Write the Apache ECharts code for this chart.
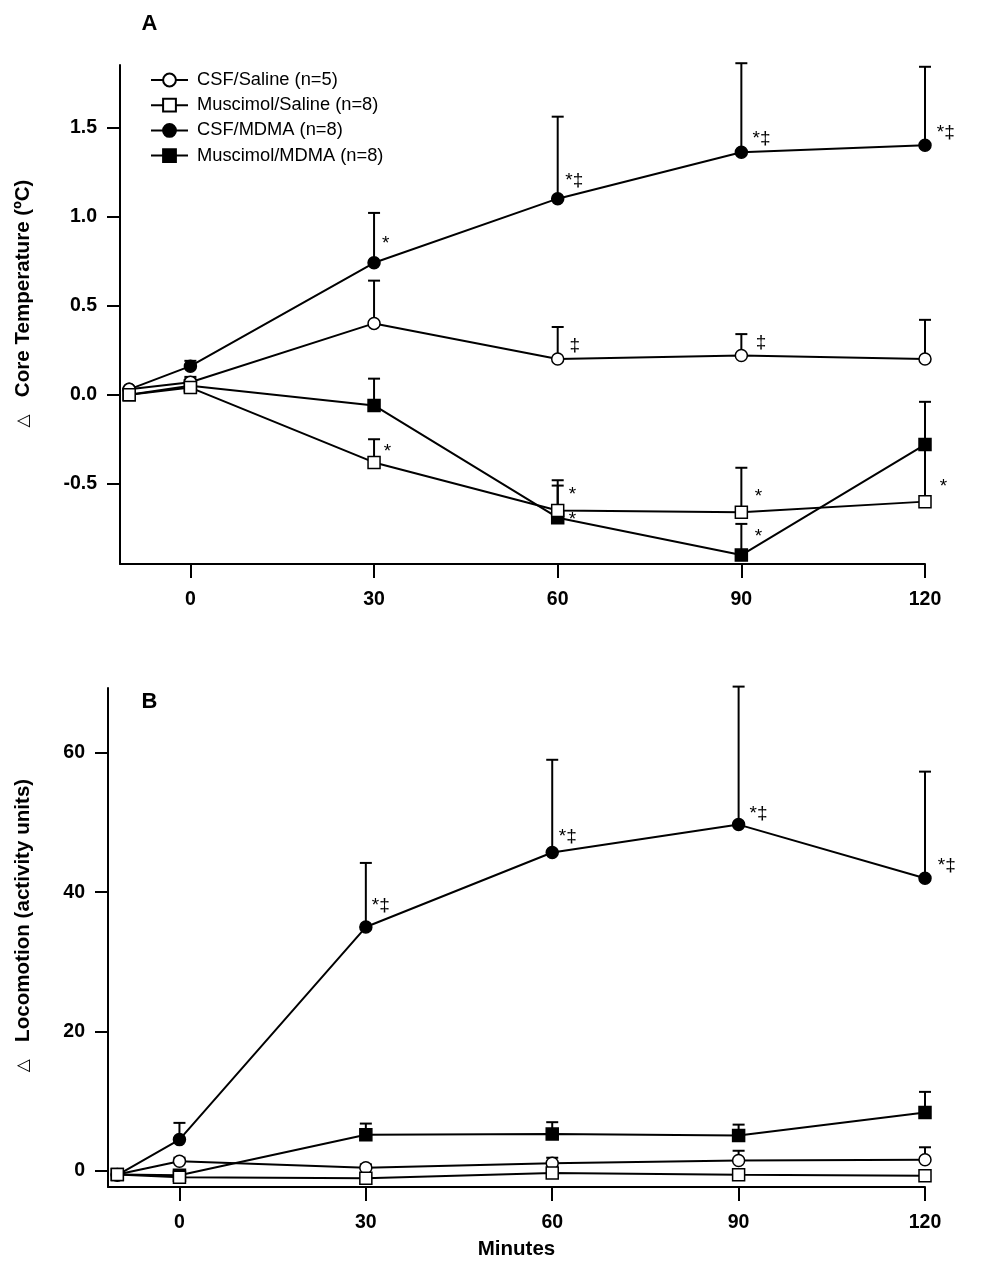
<!DOCTYPE html>
<html>
<head>
<meta charset="utf-8">
<script src="https://cdn.jsdelivr.net/npm/echarts@6/dist/echarts.min.js"></script>
<style>
html,body{margin:0;padding:0;background:#fff;}
#chart{width:987px;height:1271px;}
</style>
</head>
<body>
<div id="chart"></div>
<script>
// ---------- data ----------
const minutes = [-10, 0, 30, 60, 90, 120];
const seriesNames = ['CSF/Saline (n=5)', 'Muscimol/Saline (n=8)', 'CSF/MDMA (n=8)', 'Muscimol/MDMA (n=8)'];
const xTicks = [0, 30, 60, 90, 120];
const tempTicks = [-0.5, 0, 0.5, 1.0, 1.5];
const locoTicks = [0, 20, 40, 60];

// Panel A: change in core temperature (°C), mean and SEM
const csfSalineTemp = [0.03, 0.07, 0.40, 0.20, 0.22, 0.20];
const csfSalineTempSem = [0, 0.03, 0.24, 0.18, 0.12, 0.22];
const musSalineTemp = [0.00, 0.04, -0.38, -0.65, -0.66, -0.60];
const musSalineTempSem = [0, 0.03, 0.13, 0.17, 0.25, 0.31];
const csfMdmaTemp = [0.03, 0.16, 0.74, 1.10, 1.36, 1.40];
const csfMdmaTempSem = [0, 0.03, 0.28, 0.46, 0.50, 0.44];
const musMdmaTemp = [0.00, 0.05, -0.06, -0.69, -0.90, -0.28];
const musMdmaTempSem = [0, 0.04, 0.15, 0.18, 0.175, 0.24];

// Panel B: change in locomotion (activity units), mean and SEM
const csfSalineLoco = [-0.5, 1.4, 0.45, 1.1, 1.5, 1.6];
const csfSalineLocoSem = [0, 0.5, 0.5, 0.8, 1.4, 1.8];
const musSalineLoco = [-0.5, -0.9, -1.05, -0.3, -0.55, -0.7];
const musSalineLocoSem = [0, 0.4, 0.4, 0.5, 0.5, 0.4];
const csfMdmaLoco = [-0.6, 4.5, 35.0, 45.7, 49.7, 42.0];
const csfMdmaLocoSem = [0, 2.4, 9.2, 13.3, 19.8, 15.3];
const musMdmaLoco = [-0.5, -0.6, 5.2, 5.3, 5.1, 8.4];
const musMdmaLocoSem = [0, 0.4, 1.6, 1.7, 1.55, 2.95];

// significance marks [minute, value, text]
const tempMarks = [
  [31.9, 0.871, '*'], [62.7, 1.199, '*‡'], [93.3, 1.436, '*‡'], [123.4, 1.471, '*‡'],
  [62.8, 0.273, '‡'], [93.2, 0.292, '‡'],
  [32.2, -0.294, '*'], [62.4, -0.538, '*'], [62.4, -0.674, '*'],
  [92.8, -0.547, '*'], [92.8, -0.772, '*'], [123.0, -0.491, '*']
];
const locoMarks = [
  [32.4, 38.1, '*‡'], [62.5, 47.9, '*‡'], [93.2, 51.3, '*‡'], [123.5, 43.8, '*‡']
];

// ---------- chart ----------
const FONT = '"Liberation Sans", Arial, Helvetica, sans-serif';
const styles = [
  {symbol: 'circle', fill: '#fff', z: 5},
  {symbol: 'rect', fill: '#fff', z: 6},
  {symbol: 'circle', fill: '#000', z: 3},
  {symbol: 'rect', fill: '#000', z: 4}
];
const panels = [
  {means: [csfSalineTemp, musSalineTemp, csfMdmaTemp, musMdmaTemp],
   sems: [csfSalineTempSem, musSalineTempSem, csfMdmaTempSem, musMdmaTempSem], marks: tempMarks},
  {means: [csfSalineLoco, musSalineLoco, csfMdmaLoco, musMdmaLoco],
   sems: [csfSalineLocoSem, musSalineLocoSem, csfMdmaLocoSem, musMdmaLocoSem], marks: locoMarks}
];

function errorRender(params, api) {
  const x = api.value(0), y = api.value(1), top = api.value(2);
  const p0 = api.coord([x, y]);
  const p1 = api.coord([x, top]);
  const st = {stroke: '#000', lineWidth: 2};
  return {type: 'group', children: [
    {type: 'line', shape: {x1: p0[0], y1: p0[1], x2: p1[0], y2: p1[1]}, style: st},
    {type: 'line', shape: {x1: p1[0] - 6, y1: p1[1], x2: p1[0] + 6, y2: p1[1]}, style: st}
  ]};
}
function markRender(params, api) {
  const p = api.coord([api.value(0), api.value(1)]);
  const txt = api.value(2);
  let dy = 0;
  if (txt === '*') dy = 4.5;
  return {type: 'text', x: p[0], y: p[1] + dy,
    style: {text: txt, font: '19px ' + FONT, fill: '#000', align: 'center', verticalAlign: 'middle'}};
}

const series = [];
panels.forEach((pn, gi) => {
  pn.means.forEach((vals, si) => {
    const st = styles[si];
    series.push({
      type: 'line', name: seriesNames[si], xAxisIndex: gi, yAxisIndex: gi,
      data: minutes.map((m, i) => [m, vals[i]]),
      symbol: st.symbol, symbolSize: 12, showSymbol: true, z: st.z,
      lineStyle: {color: '#000', width: 2},
      itemStyle: {color: st.fill, borderColor: '#000', borderWidth: 1.5},
      emphasis: {disabled: true}, silent: true
    });
    const err = [];
    minutes.forEach((m, i) => { if (pn.sems[si][i] > 0) err.push([m, vals[i], vals[i] + pn.sems[si][i]]); });
    series.push({
      type: 'custom', xAxisIndex: gi, yAxisIndex: gi, z: 1, silent: true,
      renderItem: errorRender, data: err
    });
  });
  series.push({
    type: 'custom', xAxisIndex: gi, yAxisIndex: gi, z: 10, silent: true,
    dimensions: ['x', 'y', {name: 't', type: 'ordinal'}],
    renderItem: markRender, data: pn.marks
  });
});

function xAxisCfg(gi, withName) {
  return {
    type: 'value', gridIndex: gi, min: -11.5, max: 120,
    name: withName ? 'Minutes' : '', nameLocation: 'middle', nameGap: 52,
    nameTextStyle: {fontFamily: FONT, fontSize: 20.5, fontWeight: 'bold', color: '#000'},
    axisLine: {onZero: false, lineStyle: {color: '#000', width: 2}},
    axisTick: {show: true, customValues: xTicks, length: 14, lineStyle: {color: '#000', width: 2}},
    axisLabel: {customValues: xTicks, margin: 26, fontFamily: FONT, fontSize: 19.5, fontWeight: 'bold', color: '#000'},
    splitLine: {show: false}
  };
}
function yAxisCfg(gi, min, max, ticks, name, pad, gap, fmt) {
  return {
    type: 'value', gridIndex: gi, min: min, max: max,
    name: '{t|△}{b|   ' + name + '}', nameLocation: 'middle', nameGap: gap,
    nameTextStyle: {
      padding: [0, 0, 0, pad],
      rich: {
        t: {fontFamily: '"DejaVu Sans", sans-serif', fontSize: 17, color: '#000'},
        b: {fontFamily: FONT, fontSize: 20.6, fontWeight: 'bold', color: '#000'}
      }
    },
    axisLine: {show: true, onZero: false, lineStyle: {color: '#000', width: 2}},
    axisTick: {show: true, customValues: ticks, length: 13, lineStyle: {color: '#000', width: 2}},
    axisLabel: {customValues: ticks, margin: 23, formatter: fmt, fontFamily: FONT, fontSize: 19.5, fontWeight: 'bold', color: '#000'},
    splitLine: {show: false}
  };
}

const option = {
  backgroundColor: '#fff',
  animation: false,
  grid: [
    {left: 120, top: 65, width: 805, height: 499},
    {left: 108, top: 688, width: 817, height: 499}
  ],
  legend: {
    data: seriesNames, orient: 'vertical', left: 145, top: 66,
    itemWidth: 37, itemHeight: 16, itemGap: 7.2, selectedMode: false,
    textStyle: {fontFamily: FONT, fontSize: 18.3, lineHeight: 18, color: '#000', padding: [0, 0, 0, 4]}
  },
  graphic: [
    {type: 'text', x: 149.5, y: 24, style: {text: 'A', font: 'bold 22px ' + FONT, fill: '#000', align: 'center', verticalAlign: 'middle'}},
    {type: 'text', x: 149.5, y: 702, style: {text: 'B', font: 'bold 22px ' + FONT, fill: '#000', align: 'center', verticalAlign: 'middle'}}
  ],
  xAxis: [xAxisCfg(0, false), xAxisCfg(1, true)],
  yAxis: [
    yAxisCfg(0, -0.95, 1.85, tempTicks, 'Core Temperature (ºC)', 22, 86, v => v.toFixed(1)),
    yAxisCfg(1, -2.3, 69.3, locoTicks, 'Locomotion (activity units)', 24, 74, v => String(v))
  ],
  series: series
};
const chart = echarts.init(document.getElementById('chart'), null, {renderer: 'canvas'});
chart.setOption(option);
</script>
</body>
</html>
